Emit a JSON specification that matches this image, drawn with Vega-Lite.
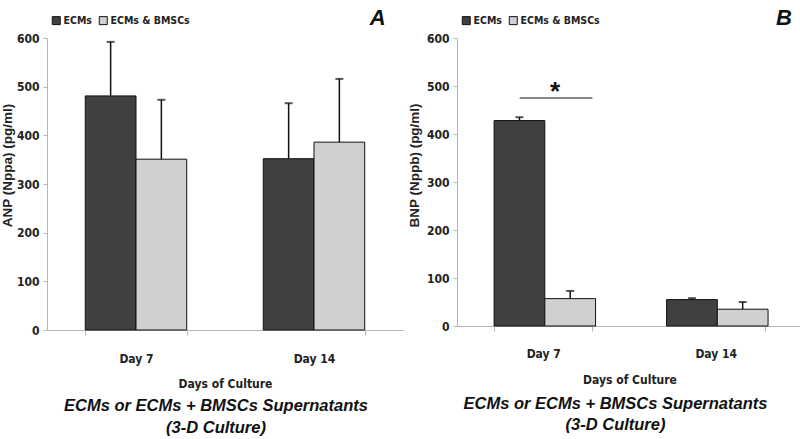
{
  "$schema": "https://vega.github.io/schema/vega-lite/v6.json",
  "background": "white",
  "padding": {"left": 0, "top": 7, "right": 0, "bottom": 0},
  "config": {
    "view": {"stroke": null},
    "font": "DejaVu Sans Condensed",
    "axis": {"labelFont": "DejaVu Sans Condensed", "labelFontWeight": "bold", "labelFontSize": 12, "labelColor": "#222", "titleColor": "#222", "domainColor": "#b5b5b5", "tickColor": "#b5b5b5", "grid": false},
    "legend": {"labelFont": "DejaVu Sans Condensed", "labelFontWeight": "bold", "labelFontSize": 10.5, "labelColor": "#222"}
  },
  "datasets": {
    "anp": [
      {"day": "Day 7", "group": "ECMs", "value": 481, "upper": 592},
      {"day": "Day 7", "group": "ECMs & BMSCs", "value": 351, "upper": 473},
      {"day": "Day 14", "group": "ECMs", "value": 352, "upper": 466},
      {"day": "Day 14", "group": "ECMs & BMSCs", "value": 386, "upper": 516}
    ],
    "bnp": [
      {"day": "Day 7", "group": "ECMs", "value": 428, "upper": 435},
      {"day": "Day 7", "group": "ECMs & BMSCs", "value": 57, "upper": 73},
      {"day": "Day 14", "group": "ECMs", "value": 55, "upper": 58},
      {"day": "Day 14", "group": "ECMs & BMSCs", "value": 35, "upper": 50}
    ]
  },
  "resolve": {"scale": {"color": "independent"}},
  "spacing": 4,
  "hconcat": [
    {
      "width": 356,
      "height": 292,
      "data": {"name": "anp"},
      "title": {"text": ["ECMs or ECMs + BMSCs Supernatants", "(3-D Culture)"], "orient": "bottom", "anchor": "middle", "font": "Liberation Sans", "fontStyle": "italic", "fontWeight": "bold", "fontSize": 16.5, "lineHeight": 22, "offset": 9, "dx": -9, "color": "#111"},
      "encoding": {
        "x": {"field": "day", "type": "nominal", "sort": ["Day 7", "Day 14"], "scale": {"paddingInner": 0.43, "paddingOuter": 0.215},
          "axis": {"title": "Days of Culture", "labelAngle": 0, "tickBand": "extent", "tickSize": 5, "labelPadding": 18, "titleFont": "DejaVu Sans Condensed", "titleFontWeight": "bold", "titleFontSize": 12, "titlePadding": 14}}
      },
      "layer": [
        {
          "mark": {"type": "bar", "stroke": "#111", "strokeWidth": 1},
          "encoding": {
            "xOffset": {"field": "group", "type": "nominal"},
            "y": {"field": "value", "type": "quantitative", "scale": {"domain": [0, 600]},
              "axis": {"title": "ANP (Nppa) (pg/ml)", "values": [0, 100, 200, 300, 400, 500, 600], "tickSize": 4, "labelPadding": 4, "titleFont": "Liberation Sans", "titleFontWeight": "bold", "titleFontSize": 13.5, "titlePadding": 2, "titleY": 127}},
            "color": {"field": "group", "type": "nominal", "scale": {"domain": ["ECMs", "ECMs & BMSCs"], "range": ["#404040", "#d0d0d0"]},
              "legend": {"title": null, "orient": "none", "legendX": 4, "legendY": -23, "direction": "horizontal", "symbolType": "square", "symbolSize": 64, "symbolStrokeColor": "#111", "symbolStrokeWidth": 1, "symbolOpacity": 1, "labelOffset": 2, "columnPadding": 5}}
          }
        },
        {
          "mark": {"type": "rule", "color": "#111", "strokeWidth": 1.5},
          "encoding": {"xOffset": {"field": "group", "type": "nominal"}, "y": {"field": "value", "type": "quantitative"}, "y2": {"field": "upper"}}
        },
        {
          "mark": {"type": "tick", "color": "#111", "size": 8, "thickness": 2},
          "encoding": {"xOffset": {"field": "group", "type": "nominal"}, "y": {"field": "upper", "type": "quantitative"}}
        },
        {
          "data": {"values": [{"label": "A"}]},
          "mark": {"type": "text", "font": "Liberation Sans", "fontSize": 22, "fontWeight": "bold", "fontStyle": "italic", "align": "right", "baseline": "middle", "dx": 21, "color": "#111"},
          "encoding": {"x": {"datum": "Day 14", "bandPosition": 1}, "y": {"datum": 641}, "text": {"field": "label"}}
        }
      ]
    },
    {
      "width": 345,
      "height": 288,
      "data": {"name": "bnp"},
      "title": {"text": ["ECMs or ECMs + BMSCs Supernatants", "(3-D Culture)"], "orient": "bottom", "anchor": "middle", "font": "Liberation Sans", "fontStyle": "italic", "fontWeight": "bold", "fontSize": 16.5, "lineHeight": 21, "offset": 11, "dx": -14, "color": "#111"},
      "encoding": {
        "x": {"field": "day", "type": "nominal", "sort": ["Day 7", "Day 14"], "scale": {"paddingInner": 0.43, "paddingOuter": 0.215},
          "axis": {"title": "Days of Culture", "labelAngle": 0, "tickBand": "extent", "tickSize": 5, "labelPadding": 17, "titleFont": "DejaVu Sans Condensed", "titleFontWeight": "bold", "titleFontSize": 12, "titlePadding": 15}}
      },
      "layer": [
        {
          "mark": {"type": "bar", "stroke": "#111", "strokeWidth": 1},
          "encoding": {
            "xOffset": {"field": "group", "type": "nominal"},
            "y": {"field": "value", "type": "quantitative", "scale": {"domain": [0, 600]},
              "axis": {"title": "BNP (Nppb) (pg/ml)", "values": [0, 100, 200, 300, 400, 500, 600], "tickSize": 4, "labelPadding": 4, "titleFont": "Liberation Sans", "titleFontWeight": "bold", "titleFontSize": 13.5, "titlePadding": 5, "titleY": 127}},
            "color": {"field": "group", "type": "nominal", "scale": {"domain": ["ECMs", "ECMs & BMSCs"], "range": ["#404040", "#d0d0d0"]},
              "legend": {"title": null, "orient": "none", "legendX": 4, "legendY": -23, "direction": "horizontal", "symbolType": "square", "symbolSize": 64, "symbolStrokeColor": "#111", "symbolStrokeWidth": 1, "symbolOpacity": 1, "labelOffset": 2, "columnPadding": 5}}
          }
        },
        {
          "mark": {"type": "rule", "color": "#111", "strokeWidth": 1.5},
          "encoding": {"xOffset": {"field": "group", "type": "nominal"}, "y": {"field": "value", "type": "quantitative"}, "y2": {"field": "upper"}}
        },
        {
          "mark": {"type": "tick", "color": "#111", "size": 8, "thickness": 2},
          "encoding": {"xOffset": {"field": "group", "type": "nominal"}, "y": {"field": "upper", "type": "quantitative"}}
        },
        {
          "data": {"values": [{"label": "*"}]},
          "mark": {"type": "rule", "color": "#111", "strokeWidth": 1.2},
          "encoding": {"x": {"datum": "Day 7", "bandPosition": 0.26}, "x2": {"datum": "Day 7", "bandPosition": 1}, "y": {"datum": 475}}
        },
        {
          "data": {"values": [{"label": "*"}]},
          "mark": {"type": "text", "font": "Liberation Sans", "fontSize": 26, "fontWeight": "bold", "align": "center", "baseline": "middle", "color": "#111", "dy": 4},
          "encoding": {"x": {"datum": "Day 7", "bandPosition": 0.62}, "y": {"datum": 495}, "text": {"field": "label"}}
        },
        {
          "data": {"values": [{"label": "B"}]},
          "mark": {"type": "text", "font": "Liberation Sans", "fontSize": 22, "fontWeight": "bold", "fontStyle": "italic", "align": "right", "baseline": "middle", "dx": 27, "color": "#111"},
          "encoding": {"x": {"datum": "Day 14", "bandPosition": 1}, "y": {"datum": 641}, "text": {"field": "label"}}
        }
      ]
    }
  ]
}
